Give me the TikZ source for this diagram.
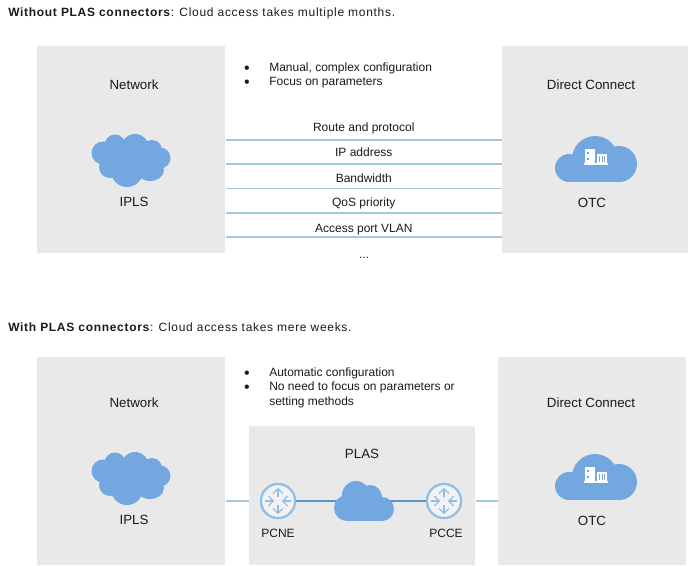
\documentclass[tikz,border=0pt]{standalone}
\usepackage{fontspec}
\setmainfont{Liberation Sans}
\usepackage{xcolor}
\usetikzlibrary{arrows.meta,positioning}
\definecolor{cajagris}{HTML}{E9E9E9}
\definecolor{nube}{HTML}{72A7E0}
\definecolor{linea}{HTML}{A3C8E3}
\definecolor{lineaosc}{HTML}{5C97C4}
\definecolor{router}{HTML}{92BDE8}
\definecolor{texto}{HTML}{1A1A1A}
\tikzset{
  caja/.style={fill=cajagris,anchor=north west,inner sep=0pt},
  txt/.style={text=texto,font=\fontsize{9}{11.25}\selectfont,inner sep=0pt,text height=6.5pt,text depth=2pt},
  txtg/.style={txt,font=\fontsize{10}{12}\selectfont},
  izq/.style={txt,anchor=west,align=left},
  parrafo/.style={text=texto,font=\fontsize{9}{11.25}\selectfont,inner sep=0pt,anchor=north west,align=left},
  titulo/.style={izq,font=\fontsize{9}{11}\selectfont\addfontfeature{LetterSpace=5.8}},
  punto/.style={txt,font=\fontsize{12}{12}\selectfont,text height=5pt,text depth=0pt},
  enlace/.style={linea,line width=1pt},
  enlaceosc/.style={lineaosc,line width=0.8pt},
  router/.style={circle,draw=router,line width=1.6pt,fill=cajagris!60!white,minimum size=25.5pt,inner sep=0pt},
  flecha/.style={router,line width=0.9pt,-{Straight Barb[length=3.5pt,width=7.5pt]}}
}
% Nube irregular de la red
\newcommand{\NubeIpls}[1]{
  \begin{scope}[shift={(0,#1)}]
    \fill[nube] (103,153) circle (11.5);
    \fill[nube] (115,145) circle (10.5);
    \fill[nube] (135,148) circle (14);
    \fill[nube] (152,150) circle (10);
    \fill[nube] (160,158) circle (10.5);
    \fill[nube] (150,170) ellipse (14 and 11);
    \fill[nube] (127,171) circle (16);
    \fill[nube] (110,167) circle (11);
    \fill[nube] (130,158) ellipse (22 and 16);
  \end{scope}
}
% Nube con los edificios
\newcommand{\NubeOtc}[1]{
  \begin{scope}[shift={(0,#1)}]
    \fill[nube] (569,168) circle (14);
    \fill[nube] (595,159) circle (23);
    \fill[nube] (619,164) circle (18);
    \fill[nube] (569,165) rectangle (619,182);
    \fill[white] (585,149) rectangle (595,163);
    \fill[white] (597,154) rectangle (607,163);
    \fill[white] (584,163) rectangle (608,164.5);
    \fill[nube] (587,151.5) rectangle (589,153.5);
    \fill[nube] (587,158) rectangle (589,160);
    \foreach \i in {599,601.5,604} {\fill[nube] (\i,156) rectangle +(1,5.5);}
  \end{scope}
}
% Flechas dentro de un router
\newcommand{\Flechas}[2]{
  \begin{scope}[shift={(#1,#2)}]
    \draw[flecha] (0,-4) -- (0,-13);
    \draw[flecha] (0,4) -- (0,13);
    \draw[flecha] (-13,0) -- (-4,0);
    \draw[flecha] (13,0) -- (4,0);
  \end{scope}
}
\begin{document}
\begin{tikzpicture}[x=0.75pt,y=-0.75pt]
  \useasboundingbox (0,0) rectangle (688,565);

  % Titulos
  \node[titulo] (titA) at (8,13) {\textbf{Without PLAS connectors}: Cloud access takes multiple months.};
  \node[titulo] (titB) at (8,328) {\textbf{With PLAS connectors}: Cloud access takes mere weeks.};

  % Cajas de arriba
  \node[caja,minimum width=141pt,minimum height=155.25pt] (netA) at (37,46) {};
  \node[caja,minimum width=139.5pt,minimum height=155.25pt] (dcA) at (502,46) {};
  \node[txtg] (netAt) at (134,86) {Network};
  \node[txtg] (dcAt) at (591,86) {Direct Connect};
  \NubeIpls{0}
  \NubeOtc{0}
  \node[txtg] (iplsA) at (134,203) {IPLS};
  \node[txtg] (otcA) at (592,204) {OTC};

  % Lista de arriba
  \node[punto] (bulA) at (247,70) {•};
  \node[punto] (bulB) at (247,84) {•};
  \node[izq] (listA) at (269,68) {Manual, complex configuration};
  \node[izq] (listB) at (269,82) {Focus on parameters};

  % Lineas con sus parametros
  \foreach \y/\e/\w/\t in {140/4/1/Route and protocol,164/3.25/1/IP address,188/2/0.7/Bandwidth,213/2.25/1/QoS priority,237/1/1/Access port VLAN} {
    \draw[enlace,line width=\w pt] (netA.east |- 0,\y) -- node[txt,above=\e pt] {\t} (dcA.west |- 0,\y);
  }
  \node[txt] (puntos) at (364,255) {...};

  % Cajas de abajo
  \node[caja,minimum width=141pt,minimum height=156pt] (netB) at (37,357) {};
  \node[caja,minimum width=141pt,minimum height=156pt] (dcB) at (498,357) {};
  \node[caja,minimum width=169.5pt,minimum height=104.25pt] (plas) at (249,426) {};
  \node[txtg] (netBt) at (134,404) {Network};
  \node[txtg] (dcBt) at (591,404) {Direct Connect};
  \NubeIpls{318}
  \NubeOtc{318}
  \node[txtg] (iplsB) at (134,521) {IPLS};
  \node[txtg] (otcB) at (592,522) {OTC};
  \node[txtg] (plasT) at (362,455) {PLAS};

  % Lista de abajo
  \node[punto] (bulC) at (247,375) {•};
  \node[punto] (bulD) at (247,389) {•};
  \node[izq] (listC) at (269,373) {Automatic configuration};
  \node[parrafo] (listD) at (269,382) {No need to focus on parameters or\\setting methods};

  % Routers y conexiones
  \node[router] (pcne) at (278,501) {};
  \node[router] (pcce) at (444,501) {};
  \coordinate (nubeP) at (364,501);
  \draw[enlace] (netB.east |- pcne) -- (plas.west |- pcne);
  \draw[enlace] (plas.east |- pcne) -- (dcB.west |- pcne);
  \draw[enlaceosc] (pcne) -- (nubeP) -- (pcce);
  \node[router] at (pcne) {};
  \node[router] at (pcce) {};
  \Flechas{278}{501}
  \Flechas{444}{501}
  \fill[nube] (347,508) circle (13);
  \fill[nube] (356,495) circle (14);
  \fill[nube] (370,497) circle (12);
  \fill[nube] (382,509) circle (12);
  \fill[nube] (347,497) rectangle (382,521);
  \node[txt] (pcneT) at (278,534) {PCNE};
  \node[txt] (pcceT) at (446,534) {PCCE};
\end{tikzpicture}
\end{document}
